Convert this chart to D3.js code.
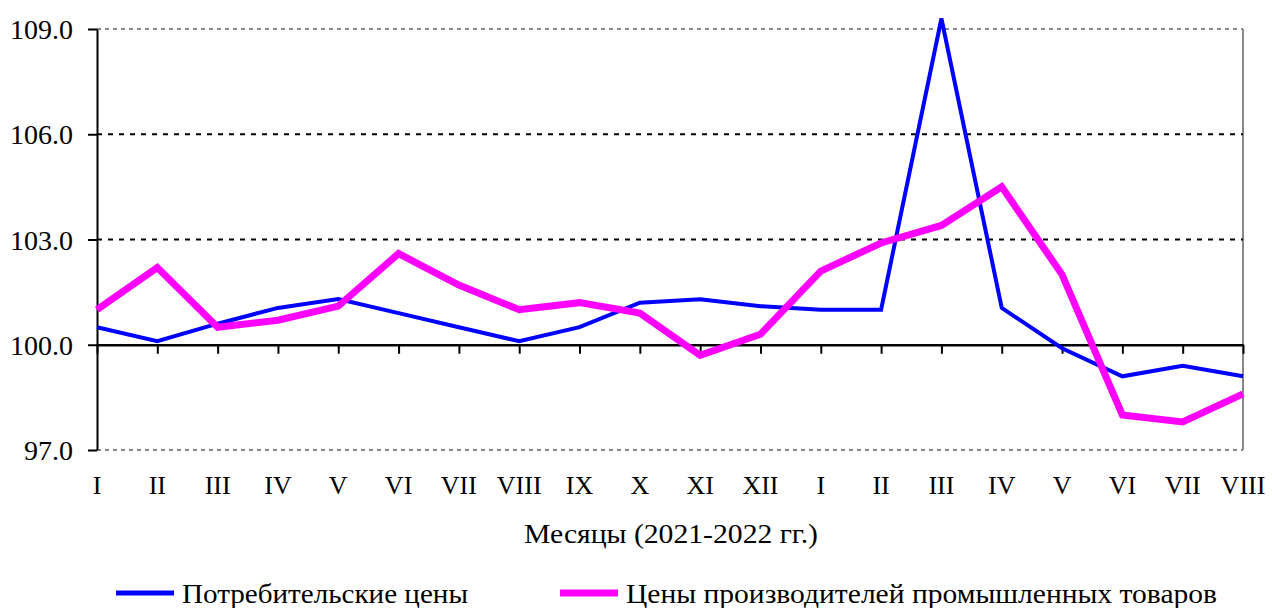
<!DOCTYPE html>
<html>
<head>
<meta charset="utf-8">
<script src="https://cdn.jsdelivr.net/npm/d3@7"></script>
<style>
  body { margin: 0; background: #fff; }
  svg text { font-family: "Liberation Serif", "Times New Roman", serif; fill: #000; }
</style>
</head>
<body>
<div id="plot"></div>
<script>
// data
var months = ["I","II","III","IV","V","VI","VII","VIII","IX","X","XI","XII",
              "I","II","III","IV","V","VI","VII","VIII"];
var consumer = [100.5,100.1,100.6,101.05,101.3,100.9,100.5,100.1,100.5,101.2,101.3,101.1,
                101.0,101.0,109.3,101.05,99.9,99.1,99.4,99.1];
var producer = [101.0,102.2,100.5,100.7,101.1,102.6,101.7,101.0,101.2,100.9,99.7,100.3,
                102.1,102.9,103.4,104.5,102.0,98.0,97.8,98.6];
var yTicks = [97, 100, 103, 106, 109];
var seriesNames = ["Потребительские цены", "Цены производителей промышленных товаров"];

// dimensions
var margin = {top: 29, right: 29, bottom: 158, left: 97},
    width = 1272 - margin.left - margin.right,
    height = 608 - margin.top - margin.bottom;

var svg = d3.select("#plot").append("svg")
    .attr("width", 1272)
    .attr("height", 608)
  .append("g")
    .attr("transform", "translate(" + margin.left + "," + margin.top + ")");

// scales
var x = d3.scalePoint().domain(d3.range(months.length)).range([0, width]);
var y = d3.scaleLinear().domain([97, 109]).range([height, 0]);

// plot frame (gray)
svg.append("line").attr("x1", width).attr("x2", width).attr("y1", 0).attr("y2", height)
    .attr("stroke", "#888").attr("stroke-width", 2);
svg.append("line").attr("x1", 0).attr("x2", width).attr("y1", 0).attr("y2", 0)
    .attr("stroke", "#888").attr("stroke-width", 2).attr("stroke-dasharray", "4,4");
svg.append("line").attr("x1", 0).attr("x2", width).attr("y1", height).attr("y2", height)
    .attr("stroke", "#888").attr("stroke-width", 2).attr("stroke-dasharray", "4,4");

// dashed gridlines
svg.selectAll(".grid")
    .data([103, 106])
  .enter().append("line")
    .attr("x1", 0).attr("x2", width)
    .attr("y1", function(d) { return y(d); })
    .attr("y2", function(d) { return y(d); })
    .attr("stroke", "#000").attr("stroke-width", 2)
    .attr("stroke-dasharray", "5,6");

// Y axis
var yAxis = svg.append("g")
    .call(d3.axisLeft(y).tickValues(yTicks).tickFormat(d3.format(".1f")).tickSize(9).tickSizeOuter(0));
yAxis.attr("font-family", null).attr("font-size", null);
yAxis.select(".domain").attr("stroke-width", 2);
yAxis.selectAll(".tick line").attr("stroke-width", 2);
yAxis.selectAll("text")
    .attr("x", -24)
    .attr("dy", "0.34em")
    .style("font-family", "'Liberation Serif', serif")
    .style("font-size", "28px");

// X axis at 100
var xAxis = svg.append("g")
    .attr("transform", "translate(0," + y(100) + ")")
    .call(d3.axisBottom(x).tickFormat(function() { return ""; }).tickSize(9).tickSizeOuter(0));
xAxis.select(".domain").attr("stroke-width", 2.5);
xAxis.selectAll(".tick line").attr("stroke-width", 2);

// X labels at the bottom
svg.selectAll(".xlab")
    .data(months)
  .enter().append("text")
    .attr("x", function(d, i) { return x(i); })
    .attr("y", height + 44)
    .attr("text-anchor", "middle")
    .style("font-size", "26px")
    .text(function(d) { return d; });

// axis title
svg.append("text")
    .attr("x", width / 2 + 1)
    .attr("y", height + 93)
    .attr("text-anchor", "middle")
    .attr("textLength", 294)
    .attr("lengthAdjust", "spacingAndGlyphs")
    .style("font-size", "27px")
    .text("Месяцы (2021-2022 гг.)");

// lines
var line = d3.line()
    .x(function(d, i) { return x(i); })
    .y(function(d) { return y(d); });

svg.append("path").datum(consumer)
    .attr("fill", "none").attr("stroke", "#0000ff").attr("stroke-width", 4)
    .attr("stroke-linejoin", "miter").attr("d", line);
svg.append("path").datum(producer)
    .attr("fill", "none").attr("stroke", "#ff00ff").attr("stroke-width", 7)
    .attr("stroke-linejoin", "miter").attr("d", line);

// legend
var legend = svg.append("g").attr("transform", "translate(0," + (height + 143) + ")");
var legendItems = [
  {name: seriesNames[0], color: "#0000ff", w: 5, x0: 19, tl: 286},
  {name: seriesNames[1], color: "#ff00ff", w: 7, x0: 463, tl: 591}
];
legendItems.forEach(function(d) {
  legend.append("line")
      .attr("x1", d.x0).attr("x2", d.x0 + 58)
      .attr("y1", 0).attr("y2", 0)
      .attr("stroke", d.color).attr("stroke-width", d.w);
  legend.append("text")
      .attr("x", d.x0 + 66)
      .attr("y", 10)
      .attr("textLength", d.tl)
      .attr("lengthAdjust", "spacingAndGlyphs")
      .style("font-family", "'Liberation Serif', serif")
      .style("font-size", "27px")
      .text(d.name);
});
</script>
</body>
</html>
